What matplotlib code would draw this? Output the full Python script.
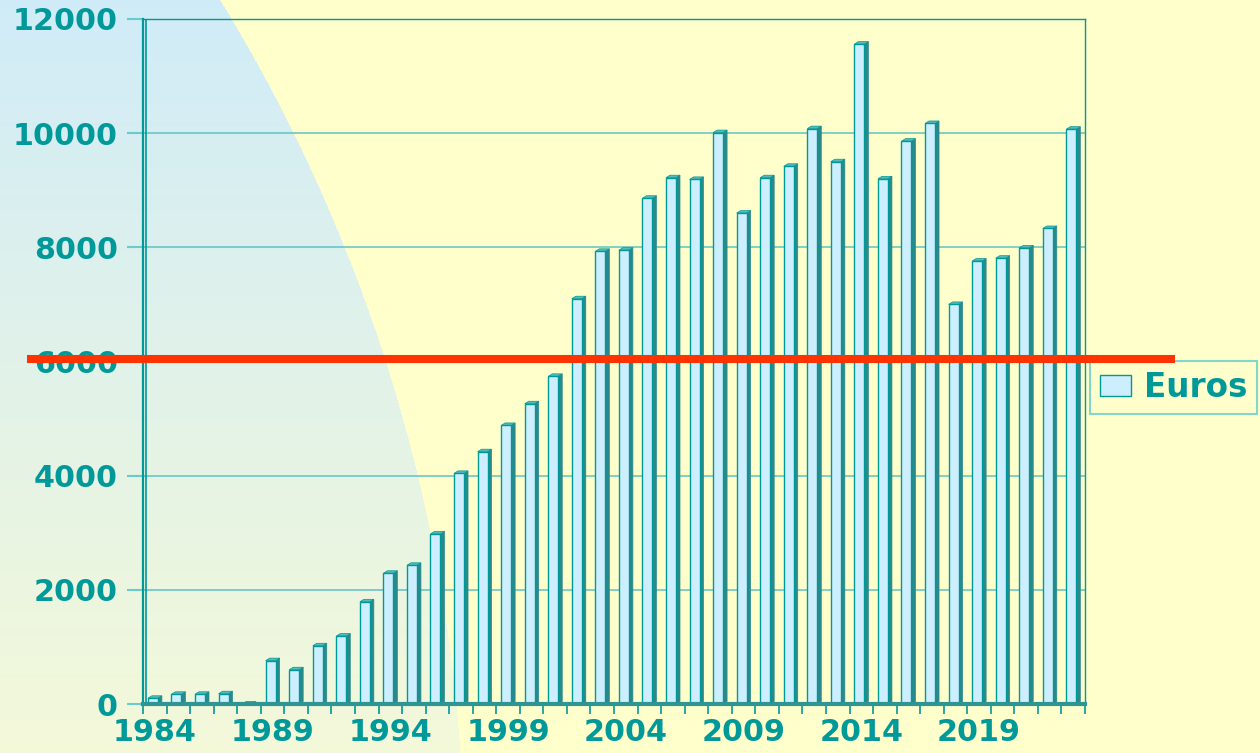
import numpy as np
import matplotlib
matplotlib.use("Agg")
import matplotlib.pyplot as plt
from matplotlib.patches import Polygon
from matplotlib.lines import Line2D
import matplotlib.transforms as mtransforms

# ---------------- data ----------------
years = list(range(1984, 2024))
euros = [100, 170, 170, 180, 0, 760, 600, 1020, 1190, 1790,
         2290, 2430, 2980, 4040, 4420, 4880, 5260, 5740, 7100, 7930,
         7950, 8860, 9220, 9190, 10010, 8600, 9220, 9420, 10080, 9500,
         11560, 9200, 9860, 10170, 7000, 7760, 7810, 7990, 8330, 10070]
ytick_values = [0, 2000, 4000, 6000, 8000, 10000, 12000]
xlabel_years = [1984, 1989, 1994, 1999, 2004, 2009, 2014, 2019]
reference_level = 6050
series_name = "Euros"

# ---------------- style ----------------
TEAL = "#009999"
GRID = "#5EC2C2"
FACE = "#CCEEFF"
SIDE = "#2A8A8A"
TOP = "#5CB8B8"
RED = "#FF3300"
YELLOW = np.array([1.0, 1.0, 0.8])

W, H = 1260, 753
fig = plt.figure(figsize=(W / 100, H / 100), dpi=100)

# background with curved blue gradient region
bg = fig.add_axes([0, 0, 1, 1], zorder=-10)
bg.set_axis_off()
yy, xx = np.mgrid[0:H, 0:W]
cx, cy, r = -1190.8, 864.4, 1654.5
inside = (xx - cx) ** 2 + (yy - cy) ** 2 <= r ** 2
t = (yy / (H - 1))[..., None]
top_c = np.array([0.816, 0.925, 0.973])
bot_c = np.array([0.955, 0.975, 0.85])
grad = top_c * (1 - t) + bot_c * t
img = np.where(inside[..., None], grad, YELLOW)
bg.imshow(img, extent=[0, 1, 0, 1], aspect="auto", origin="upper", interpolation="bilinear")
bg.set_xlim(0, 1); bg.set_ylim(0, 1)

# main axes
L, R, B, T = 143, 1085, 704, 19
ax = fig.add_axes([L / W, 1 - B / H, (R - L) / W, (B - T) / H])
ax.set_facecolor("none")
n = len(years)
x = np.arange(n)
ax.set_xlim(-0.5, n - 0.5)
ax.set_ylim(0, 12000)

px_x = (n) / (R - L)          # data units per pixel, x
px_y = 12000 / (B - T)        # data units per pixel, y
bw = 10 * px_x
dx = 4.0 * px_x
dy = 2.5 * px_y
shift = -0.08

bars = ax.bar(x + shift, euros, width=bw, color=FACE, edgecolor=TEAL,
              linewidth=1, zorder=3, label=series_name)
for xi, v in zip(x, euros):
    xl = xi + shift - bw / 2
    xr = xi + shift + bw / 2
    if v > 0:
        ax.add_patch(Polygon([(xr, 0), (xr + dx, dy), (xr + dx, v + dy), (xr, v)],
                             closed=True, facecolor=SIDE, edgecolor=SIDE, lw=0.5, zorder=2))
    ax.add_patch(Polygon([(xl, v), (xr, v), (xr + dx, v + dy), (xl + dx, v + dy)],
                         closed=True, facecolor=TOP, edgecolor=TEAL, lw=0.5, zorder=2))

# grid
ax.set_yticks(ytick_values)
ax.yaxis.grid(True, color=GRID, lw=1.1, zorder=1)
ax.set_axisbelow(True)

# spines
for s in ["top", "right"]:
    ax.spines[s].set_color(TEAL)
    ax.spines[s].set_linewidth(1.0)
ax.spines["left"].set_color(TEAL)
ax.spines["left"].set_linewidth(1.6)
ax.spines["bottom"].set_color("#2E9494")
ax.spines["bottom"].set_linewidth(3.0)
ax.spines["bottom"].set_zorder(4)
# inner wall line (double left line)
ax.axvline(-0.5 + 3 * px_x, color=TEAL, lw=1.2, zorder=2)

# ticks
ax.tick_params(axis="y", direction="out", length=11.5, width=1.5, color="#66CCCC",
               pad=6.5, labelsize=21.7, labelcolor=TEAL)
for lab in ax.get_yticklabels():
    lab.set_fontweight("bold")

ax.set_xticks([years.index(yv) for yv in xlabel_years])
ax.set_xticklabels([str(yv) for yv in xlabel_years], fontsize=21.7,
                   fontweight="bold", color=TEAL)
ax.tick_params(axis="x", which="major", length=0, pad=10.0)
ax.set_xticks(np.arange(n + 1) - 0.5, minor=True)
ax.tick_params(axis="x", which="minor", direction="out", length=7.2, width=1.2, color=TEAL)

# red reference line, across the figure
blend = mtransforms.blended_transform_factory(fig.transFigure, ax.transData)
fig.add_artist(Line2D([27 / W, 1175 / W], [reference_level, reference_level],
                      transform=blend, color=RED, lw=5.8, zorder=20, solid_capstyle="butt"))

# legend
leg = fig.legend(handles=[bars], labels=[series_name], loc="upper left",
                 bbox_to_anchor=(1090 / W, 1 - 361 / H), frameon=True,
                 fancybox=False, handlelength=0.95, handleheight=0.62,
                 handletextpad=0.4, borderpad=0.3, borderaxespad=0,
                 prop={"size": 23.5, "weight": "bold"})
leg.get_frame().set_edgecolor("#66CCCC")
leg.get_frame().set_linewidth(1.5)
leg.get_frame().set_facecolor("none")
for txt in leg.get_texts():
    txt.set_color(TEAL)

fig.savefig("out.png", dpi=100)
